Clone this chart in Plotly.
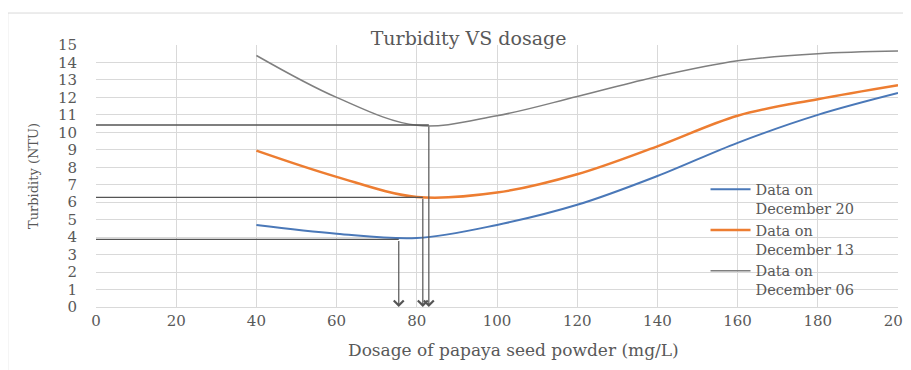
import plotly.graph_objects as go

dosage = [40, 60, 80, 100, 120, 140, 160, 180, 200]
dec20 = [4.7, 4.2, 3.95, 4.7, 5.85, 7.5, 9.4, 11.0, 12.25]
dec13 = [8.95, 7.45, 6.3, 6.55, 7.6, 9.2, 10.95, 11.9, 12.7]
dec06 = [14.4, 12.0, 10.4, 10.95, 12.05, 13.2, 14.1, 14.5, 14.65]
series_names = ["Data on<br>December 20", "Data on<br>December 13", "Data on<br>December 06"]

# optimum (minimum turbidity) readings marked on the chart
opt_dose = [75.5, 81.5, 83.0]
opt_turb = [3.87, 6.28, 10.42]

x_ticks = list(range(0, 201, 20))
y_ticks = list(range(0, 16, 1))

colors = ["#4a78b8", "#ed7d31", "#7f7f7f"]
widths = [2, 2.5, 1.5]
FONT = "DejaVu Serif, Liberation Serif, serif"
TXT = "#595959"

fig = go.Figure()
for vals, name, c, w in zip([dec20, dec13, dec06], series_names, colors, widths):
    fig.add_trace(go.Scatter(x=dosage, y=vals, name=name, mode="lines",
                             line=dict(color=c, width=w, shape="spline", smoothing=1)))

for xd, yd in zip(opt_dose, opt_turb):
    fig.add_trace(go.Scatter(x=[0, xd], y=[yd, yd], mode="lines", showlegend=False,
                             hoverinfo="skip", line=dict(color="#555555", width=1.3)))
    fig.add_annotation(x=xd, y=0, ax=xd, ay=yd, xref="x", yref="y", axref="x", ayref="y",
                       showarrow=True, arrowhead=4, arrowsize=1.6, arrowwidth=1.2,
                       arrowcolor="#555555", text="")

fig.add_annotation(text="Dosage of papaya seed powder (mg/L)", xref="paper", yref="paper",
                   x=0.52, y=-0.164, xanchor="center", yanchor="middle", showarrow=False,
                   font=dict(family=FONT, size=17, color=TXT))

fig.add_shape(type="rect", xref="paper", yref="paper", x0=-0.11, y0=-0.3, x1=1.0125, y1=1.122,
              line=dict(color="#d9d9d9", width=1), fillcolor="rgba(0,0,0,0)", layer="below")

fig.update_layout(
    width=903, height=362,
    margin=dict(l=88, r=13, t=37, b=63, autoexpand=False),
    paper_bgcolor="white", plot_bgcolor="white",
    font=dict(family=FONT, color=TXT, size=14),
    title=dict(text="Turbidity VS dosage", x=0.51, xanchor="center", y=0.917, yanchor="middle",
               font=dict(family=FONT, size=19, color=TXT)),
    legend=dict(x=0.76, y=0.51, xanchor="left", yanchor="top", bgcolor="rgba(0,0,0,0)",
                valign="top", font=dict(family=FONT, size=14.5, color=TXT),
                tracegroupgap=0, itemwidth=40),
    xaxis=dict(range=[0, 200], tickvals=x_ticks, ticktext=[str(v) for v in x_ticks],
               showgrid=True, gridcolor="#d9d9d9", gridwidth=1, zeroline=False,
               showline=True, linecolor="#d9d9d9", ticks="", ticklabelstandoff=0,
               ticklabeloverflow="allow", automargin=False,
               tickfont=dict(family=FONT, size=15, color=TXT)),
    yaxis=dict(range=[0, 15], tickvals=y_ticks, ticktext=[str(v) for v in y_ticks],
               showgrid=True, gridcolor="#d9d9d9", gridwidth=1, zeroline=False,
               showline=False, ticks="", ticklabelstandoff=18, automargin=False,
               ticklabeloverflow="allow",
               tickfont=dict(family=FONT, size=15, color=TXT),
               title=dict(text="Turbidity (NTU)", standoff=16,
                          font=dict(family=FONT, size=13, color=TXT))),
)

fig.write_html("out.html")
